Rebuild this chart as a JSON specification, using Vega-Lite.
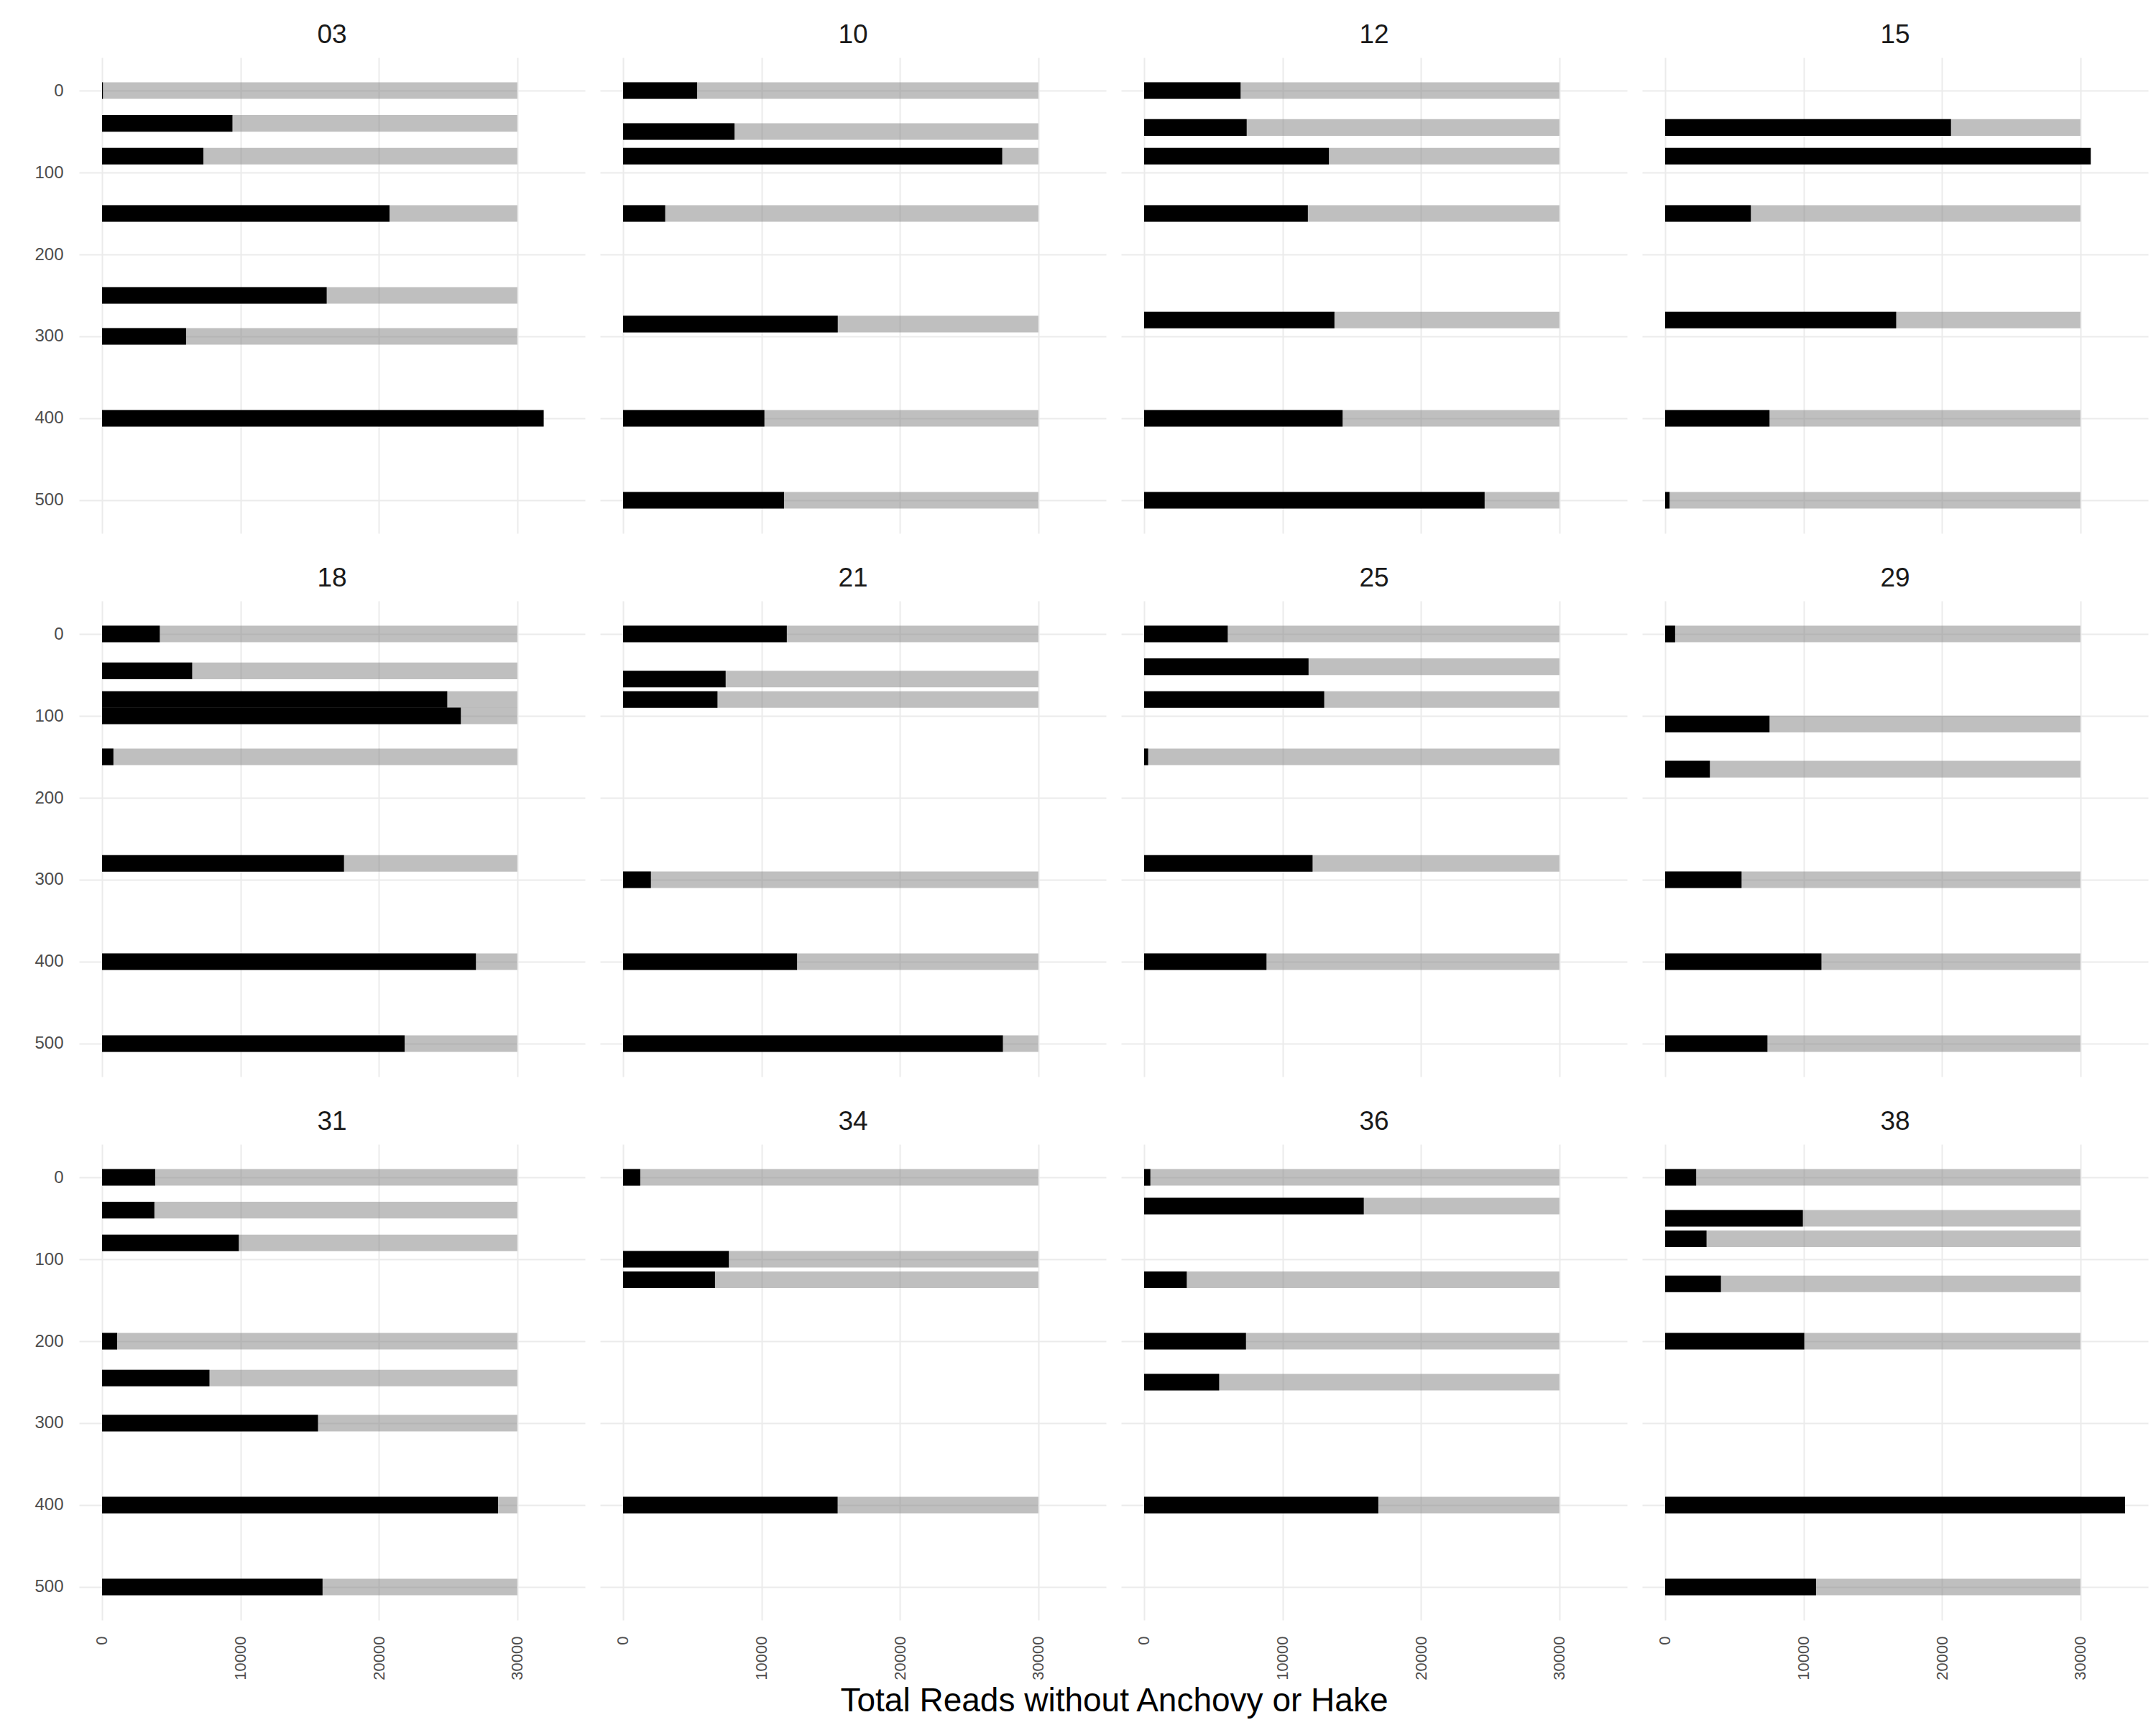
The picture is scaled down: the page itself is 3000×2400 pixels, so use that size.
{
  "$schema": "https://vega.github.io/schema/vega-lite/v6.json",
  "padding": {"left": 47, "top": 30, "right": 5, "bottom": 5},
  "background": "white",
  "title": {"text": "Total Reads without Anchovy or Hake", "orient": "bottom", "anchor": "middle", "fontSize": 46, "fontWeight": "normal", "font": "Liberation Sans", "color": "#000000", "offset": 8, "dx": 32},
  "data": {"values": [
    {"station": "03", "depth": 0, "reads": 60},
    {"station": "03", "depth": 40, "reads": 9420},
    {"station": "03", "depth": 80, "reads": 7320},
    {"station": "03", "depth": 150, "reads": 20770},
    {"station": "03", "depth": 250, "reads": 16230},
    {"station": "03", "depth": 300, "reads": 6070},
    {"station": "03", "depth": 400, "reads": 31910},
    {"station": "10", "depth": 0, "reads": 5350},
    {"station": "10", "depth": 50, "reads": 8050},
    {"station": "10", "depth": 80, "reads": 27390},
    {"station": "10", "depth": 150, "reads": 3040},
    {"station": "10", "depth": 285, "reads": 15510},
    {"station": "10", "depth": 400, "reads": 10210},
    {"station": "10", "depth": 500, "reads": 11630},
    {"station": "12", "depth": 0, "reads": 6970},
    {"station": "12", "depth": 45, "reads": 7410},
    {"station": "12", "depth": 80, "reads": 13350},
    {"station": "12", "depth": 150, "reads": 11830},
    {"station": "12", "depth": 280, "reads": 13750},
    {"station": "12", "depth": 400, "reads": 14340},
    {"station": "12", "depth": 500, "reads": 24600},
    {"station": "15", "depth": 45, "reads": 20650},
    {"station": "15", "depth": 80, "reads": 30750},
    {"station": "15", "depth": 150, "reads": 6190},
    {"station": "15", "depth": 280, "reads": 16690},
    {"station": "15", "depth": 400, "reads": 7540},
    {"station": "15", "depth": 500, "reads": 320},
    {"station": "18", "depth": 0, "reads": 4170},
    {"station": "18", "depth": 45, "reads": 6510},
    {"station": "18", "depth": 80, "reads": 24940},
    {"station": "18", "depth": 100, "reads": 25920},
    {"station": "18", "depth": 150, "reads": 820},
    {"station": "18", "depth": 280, "reads": 17480},
    {"station": "18", "depth": 400, "reads": 27010},
    {"station": "18", "depth": 500, "reads": 21860},
    {"station": "21", "depth": 0, "reads": 11830},
    {"station": "21", "depth": 55, "reads": 7410},
    {"station": "21", "depth": 80, "reads": 6820},
    {"station": "21", "depth": 300, "reads": 2010},
    {"station": "21", "depth": 400, "reads": 12570},
    {"station": "21", "depth": 500, "reads": 27440},
    {"station": "25", "depth": 0, "reads": 6040},
    {"station": "25", "depth": 40, "reads": 11880},
    {"station": "25", "depth": 80, "reads": 13010},
    {"station": "25", "depth": 150, "reads": 290},
    {"station": "25", "depth": 280, "reads": 12170},
    {"station": "25", "depth": 400, "reads": 8840},
    {"station": "29", "depth": 0, "reads": 720},
    {"station": "29", "depth": 110, "reads": 7540},
    {"station": "29", "depth": 165, "reads": 3230},
    {"station": "29", "depth": 300, "reads": 5520},
    {"station": "29", "depth": 400, "reads": 11290},
    {"station": "29", "depth": 500, "reads": 7390},
    {"station": "31", "depth": 0, "reads": 3840},
    {"station": "31", "depth": 40, "reads": 3780},
    {"station": "31", "depth": 80, "reads": 9880},
    {"station": "31", "depth": 200, "reads": 1090},
    {"station": "31", "depth": 245, "reads": 7760},
    {"station": "31", "depth": 300, "reads": 15600},
    {"station": "31", "depth": 400, "reads": 28610},
    {"station": "31", "depth": 500, "reads": 15930},
    {"station": "34", "depth": 0, "reads": 1240},
    {"station": "34", "depth": 100, "reads": 7640},
    {"station": "34", "depth": 125, "reads": 6640},
    {"station": "34", "depth": 400, "reads": 15500},
    {"station": "36", "depth": 0, "reads": 450},
    {"station": "36", "depth": 35, "reads": 15870},
    {"station": "36", "depth": 125, "reads": 3080},
    {"station": "36", "depth": 200, "reads": 7360},
    {"station": "36", "depth": 250, "reads": 5420},
    {"station": "36", "depth": 400, "reads": 16920},
    {"station": "38", "depth": 0, "reads": 2240},
    {"station": "38", "depth": 50, "reads": 9950},
    {"station": "38", "depth": 75, "reads": 2990},
    {"station": "38", "depth": 130, "reads": 4030},
    {"station": "38", "depth": 200, "reads": 10050},
    {"station": "38", "depth": 400, "reads": 33230},
    {"station": "38", "depth": 500, "reads": 10900}
  ]},
  "facet": {"field": "station", "type": "nominal", "title": null,
    "header": {"labelFontSize": 37, "labelFont": "Liberation Sans", "labelColor": "#1A1A1A", "labelPadding": -17, "labelBaseline": "alphabetic"}},
  "columns": 4,
  "spacing": {"column": 21, "row": 44},
  "spec": {
    "width": 704,
    "height": 662,
    "encoding": {
      "y": {"field": "depth", "type": "quantitative",
        "scale": {"domain": [-36, 536], "reverse": true, "nice": false, "zero": false},
        "axis": {"values": [0, 100, 200, 300, 400, 500], "title": null, "labelFontSize": 24, "labelPadding": 22}}
    },
    "layer": [
      {
        "mark": {"type": "bar", "orient": "horizontal", "size": 23.1, "color": "#7F7F7F", "opacity": 0.5},
        "encoding": {
          "x": {"datum": 0, "type": "quantitative",
            "scale": {"domain": [-1661, 34892], "nice": false, "zero": false},
            "axis": {"values": [0, 10000, 20000, 30000], "title": null, "labelAngle": 270, "labelFontSize": 22, "labelPadding": 22, "format": "d"}},
          "x2": {"datum": 30000}
        }
      },
      {
        "mark": {"type": "bar", "orient": "horizontal", "size": 23.1, "color": "#000000"},
        "encoding": {
          "x": {"field": "reads", "type": "quantitative"},
          "x2": {"datum": 0}
        }
      }
    ]
  },
  "config": {
    "view": {"stroke": null},
    "font": "Liberation Sans",
    "axis": {"domain": false, "ticks": false, "grid": true, "gridColor": "#EBEBEB", "gridWidth": 2, "labelColor": "#4D4D4D", "labelFont": "Liberation Sans"}
  }
}
